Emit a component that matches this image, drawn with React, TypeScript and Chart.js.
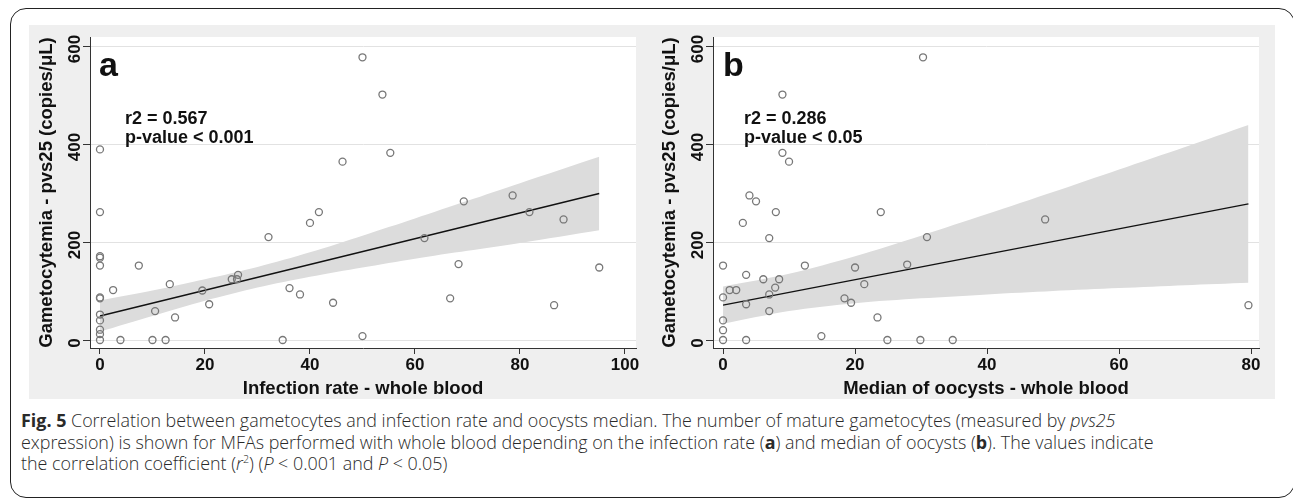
import React, { useEffect, useRef } from "react";
import { Chart, registerables } from "chart.js";

Chart.register(...registerables);

// ---------- Data ----------
const infectionRate = [0, 0, 0, 0, 0, 0, 0, 0, 0, 0, 0, 0, 2.5, 3.9, 7.4, 10.0, 10.5, 12.5, 13.3, 14.3, 19.5, 20.8, 25.1, 26.1, 26.3, 32.1, 34.8, 36.1, 38.1, 40, 41.7, 44.4, 46.2, 50.0, 53.8, 55.3, 50.0, 61.8, 66.7, 68.3, 69.3, 78.6, 81.8, 86.5, 88.3, 95.1];
const gametocytemiaA = [389, 261, 171, 168, 152, 87, 85, 52, 40, 21, 12, 0, 102, 0, 152, 0, 59, 0, 114, 46, 101, 73, 124, 124, 133, 210, 0, 106, 93, 239, 261, 76, 364, 577, 501, 382, 8, 208, 85, 155, 283, 295, 261, 71, 246, 148];

const oocystsMedian = [30.3, 9.0, 9.0, 10.0, 4.0, 5.0, 8.0, 3.0, 7.0, 0, 12.4, 3.5, 6.1, 8.5, 1.0, 2.0, 7.9, 0, 7.0, 3.5, 7.0, 0, 0, 0, 3.5, 14.9, 20.0, 21.4, 18.4, 19.4, 23.4, 23.9, 24.9, 29.9, 34.8, 27.9, 30.9, 48.8, 79.6];
const gametocytemiaB = [577, 501, 382, 364, 295, 283, 261, 239, 208, 152, 152, 133, 124, 124, 102, 102, 107, 87, 93, 73, 59, 40, 20, 0, 0, 8, 148, 114, 85, 76, 46, 261, 0, 0, 0, 154, 210, 246, 71];

const fitXA = [0, 95.1];
const fitYA = [49, 299];
const bandXA = [0, 10, 20, 30, 40, 50, 60, 70, 80, 95.1];
const bandLoA = [17, 49, 80, 107, 129, 148, 166, 182, 198, 224];
const bandHiA = [81, 101, 124, 149, 179, 213, 248, 284, 320, 374];

const fitXB = [0, 79.6];
const fitYB = [71, 278];
const bandXB = [0, 10, 20, 30, 40, 50, 60, 70, 79.6];
const bandLoB = [33, 59, 75, 85, 93, 100, 106, 112, 117];
const bandHiB = [109, 135, 171, 213, 257, 302, 348, 394, 439];

const xTicksA = [0, 20, 40, 60, 80, 100];
const xTicksB = [0, 20, 40, 60, 80];
const yTicks = [0, 200, 400, 600];

const yTitle = "Gametocytemia - pvs25 (copies/μL)";
const xTitleA = "Infection rate - whole blood";
const xTitleB = "Median of oocysts - whole blood";

const FONT = '"Liberation Sans", Arial, sans-serif';

type PanelCfg = {
  letter: string;
  r2: string;
  pval: string;
  xs: number[];
  ys: number[];
  fitX: number[];
  fitY: number[];
  bandX: number[];
  bandLo: number[];
  bandHi: number[];
  xMin: number;
  xMax: number;
  xTicks: number[];
  xTitle: string;
  letterDx: number;
  textDx: number;
};

function Panel({ cfg, left, top }: { cfg: PanelCfg; left: number; top: number }) {
  const ref = useRef<HTMLCanvasElement | null>(null);
  useEffect(() => {
    const canvas = ref.current;
    if (!canvas) return;
    const pts = (xs: number[], ys: number[]) => xs.map((x, i) => ({ x, y: ys[i] }));
    const plugin = {
      id: "panelDeco",
      beforeDraw(chart: any) {
        const { ctx, chartArea, width, height } = chart;
        ctx.save();
        ctx.fillStyle = "#efefef";
        ctx.fillRect(0, 0, width, height);
        ctx.fillStyle = "#ffffff";
        ctx.fillRect(chartArea.left, chartArea.top, chartArea.right - chartArea.left, chartArea.bottom - chartArea.top);
        ctx.restore();
      },
      afterDatasetsDraw(chart: any) {
        const { ctx, chartArea } = chart;
        ctx.save();
        ctx.fillStyle = "#111";
        ctx.textBaseline = "alphabetic";
        ctx.textAlign = "left";
        ctx.font = `bold 34px ${FONT}`;
        ctx.fillText(cfg.letter, chartArea.left + cfg.letterDx, chartArea.top + 39);
        ctx.font = `bold 18px ${FONT}`;
        ctx.fillText(cfg.r2, chartArea.left + cfg.textDx, chartArea.top + 87);
        ctx.fillText(cfg.pval, chartArea.left + cfg.textDx, chartArea.top + 106);
        ctx.restore();
      },
    };
    const chart = new Chart(canvas, {
      type: "scatter",
      data: {
        datasets: [
          {
            label: "observations",
            data: pts(cfg.xs, cfg.ys),
            showLine: false,
            pointStyle: "circle",
            pointRadius: 3.5,
            pointBorderWidth: 1.3,
            pointBorderColor: "#777777",
            pointBackgroundColor: "rgba(0,0,0,0)",
          },
          {
            label: "fit",
            data: pts(cfg.fitX, cfg.fitY),
            showLine: true,
            borderColor: "#111111",
            borderWidth: 1.3,
            pointRadius: 0,
          },
          {
            label: "ci upper",
            data: pts(cfg.bandX, cfg.bandHi),
            showLine: true,
            borderWidth: 0,
            borderColor: "rgba(0,0,0,0)",
            pointRadius: 0,
            fill: "+1",
            backgroundColor: "#dcdcdc",
            tension: 0.3,
          },
          {
            label: "ci lower",
            data: pts(cfg.bandX, cfg.bandLo),
            showLine: true,
            borderWidth: 0,
            borderColor: "rgba(0,0,0,0)",
            pointRadius: 0,
            fill: false,
            tension: 0.3,
          },
        ],
      } as any,
      options: {
        animation: false,
        responsive: false,
        events: [],
        layout: { padding: { left: 0, top: 12, right: 16, bottom: 0 } },
        plugins: { legend: { display: false }, tooltip: { enabled: false } },
        scales: {
          x: {
            type: "linear",
            min: cfg.xMin,
            max: cfg.xMax,
            afterBuildTicks: (s: any) => {
              s.ticks = cfg.xTicks.map((v) => ({ value: v }));
            },
            afterFit: (s: any) => {
              s.height = 51;
            },
            grid: { drawOnChartArea: false, drawTicks: true, tickLength: 6, color: "#333", tickColor: "#333" },
            border: { color: "#333", width: 1 },
            ticks: {
              font: { family: FONT, size: 17, weight: "bold" },
              color: "#111",
              padding: 1,
              maxRotation: 0,
              minRotation: 0,
            },
            title: {
              display: true,
              text: cfg.xTitle,
              color: "#111",
              font: { family: FONT, size: 18.5, weight: "bold", lineHeight: 1 },
              padding: { top: 0, bottom: 1 },
            },
          },
          y: {
            type: "linear",
            min: -16.3,
            max: 618.4,
            afterBuildTicks: (s: any) => {
              s.ticks = yTicks.map((v) => ({ value: v }));
            },
            afterFit: (s: any) => {
              s.width = 61;
            },
            grid: { color: "#e2e2e2", tickColor: "#333", tickLength: 7, lineWidth: 1 },
            border: { color: "#333", width: 1 },
            ticks: {
              font: { family: FONT, size: 17, weight: "bold" },
              color: "#111",
              minRotation: 90,
              maxRotation: 90,
              crossAlign: "center",
              padding: -6,
              labelOffset: 3,
            },
            title: {
              display: true,
              text: yTitle,
              color: "#111",
              font: { family: FONT, size: 18.5, weight: "bold", lineHeight: 1 },
              padding: { top: 8.3, bottom: 0 },
            },
          },
        },
      } as any,
      plugins: [plugin],
    });
    return () => chart.destroy();
  }, [cfg]);
  return (
    <canvas
      ref={ref}
      width={623}
      height={374}
      style={{ position: "absolute", left, top, width: 623, height: 374, display: "block" }}
    />
  );
}

const panelA: PanelCfg = {
  letter: "a",
  r2: "r2 = 0.567",
  pval: "p-value < 0.001",
  xs: infectionRate,
  ys: gametocytemiaA,
  fitX: fitXA,
  fitY: fitYA,
  bandX: bandXA,
  bandLo: bandLoA,
  bandHi: bandHiA,
  xMin: -1.9,
  xMax: 102.1,
  xTicks: xTicksA,
  xTitle: xTitleA,
  letterDx: 9,
  textDx: 35,
};

const panelB: PanelCfg = {
  letter: "b",
  r2: "r2 = 0.286",
  pval: "p-value < 0.05",
  xs: oocystsMedian,
  ys: gametocytemiaB,
  fitX: fitXB,
  fitY: fitYB,
  bandX: bandXB,
  bandLo: bandLoB,
  bandHi: bandHiB,
  xMin: -1.52,
  xMax: 81.2,
  xTicks: xTicksB,
  xTitle: xTitleB,
  letterDx: 10,
  textDx: 31,
};

const supStyle: React.CSSProperties = { fontSize: "0.6em", verticalAlign: "super", lineHeight: 0 };

export default function App() {
  return (
    <div
      style={{
        position: "fixed",
        left: 0,
        top: 0,
        width: 1293,
        height: 498,
        overflow: "hidden",
        background: "#ffffff",
      }}
    >
      <div
        style={{
          position: "absolute",
          left: 10,
          top: 8,
          width: 1285,
          height: 490,
          border: "1.5px solid #222",
          borderRadius: 16,
          boxSizing: "border-box",
        }}
      />
      <Panel cfg={panelA} left={29} top={25} />
      <Panel cfg={panelB} left={652} top={25} />
      <div
        style={{
          position: "absolute",
          left: 21,
          top: 410,
          fontFamily: '"Open Sans", sans-serif',
          fontSize: 17.9,
          fontWeight: 300,
          lineHeight: "21.5px",
          color: "#2a2a2a",
          whiteSpace: "nowrap",
        }}
      >
        <div>
          <b style={{ fontWeight: 700 }}>Fig. 5</b> Correlation between gametocytes and infection rate and oocysts median. The number of mature gametocytes (measured by <i>pvs25</i>
        </div>
        <div>
          expression) is shown for MFAs performed with whole blood depending on the infection rate (<b style={{ fontWeight: 700 }}>a</b>) and median of oocysts (<b style={{ fontWeight: 700 }}>b</b>). The values indicate
        </div>
        <div>
          the correlation coefficient (<i>r</i>
          <sup style={supStyle}>2</sup>) (<i>P</i> &lt; 0.001 and <i>P</i> &lt; 0.05)
        </div>
      </div>
    </div>
  );
}
